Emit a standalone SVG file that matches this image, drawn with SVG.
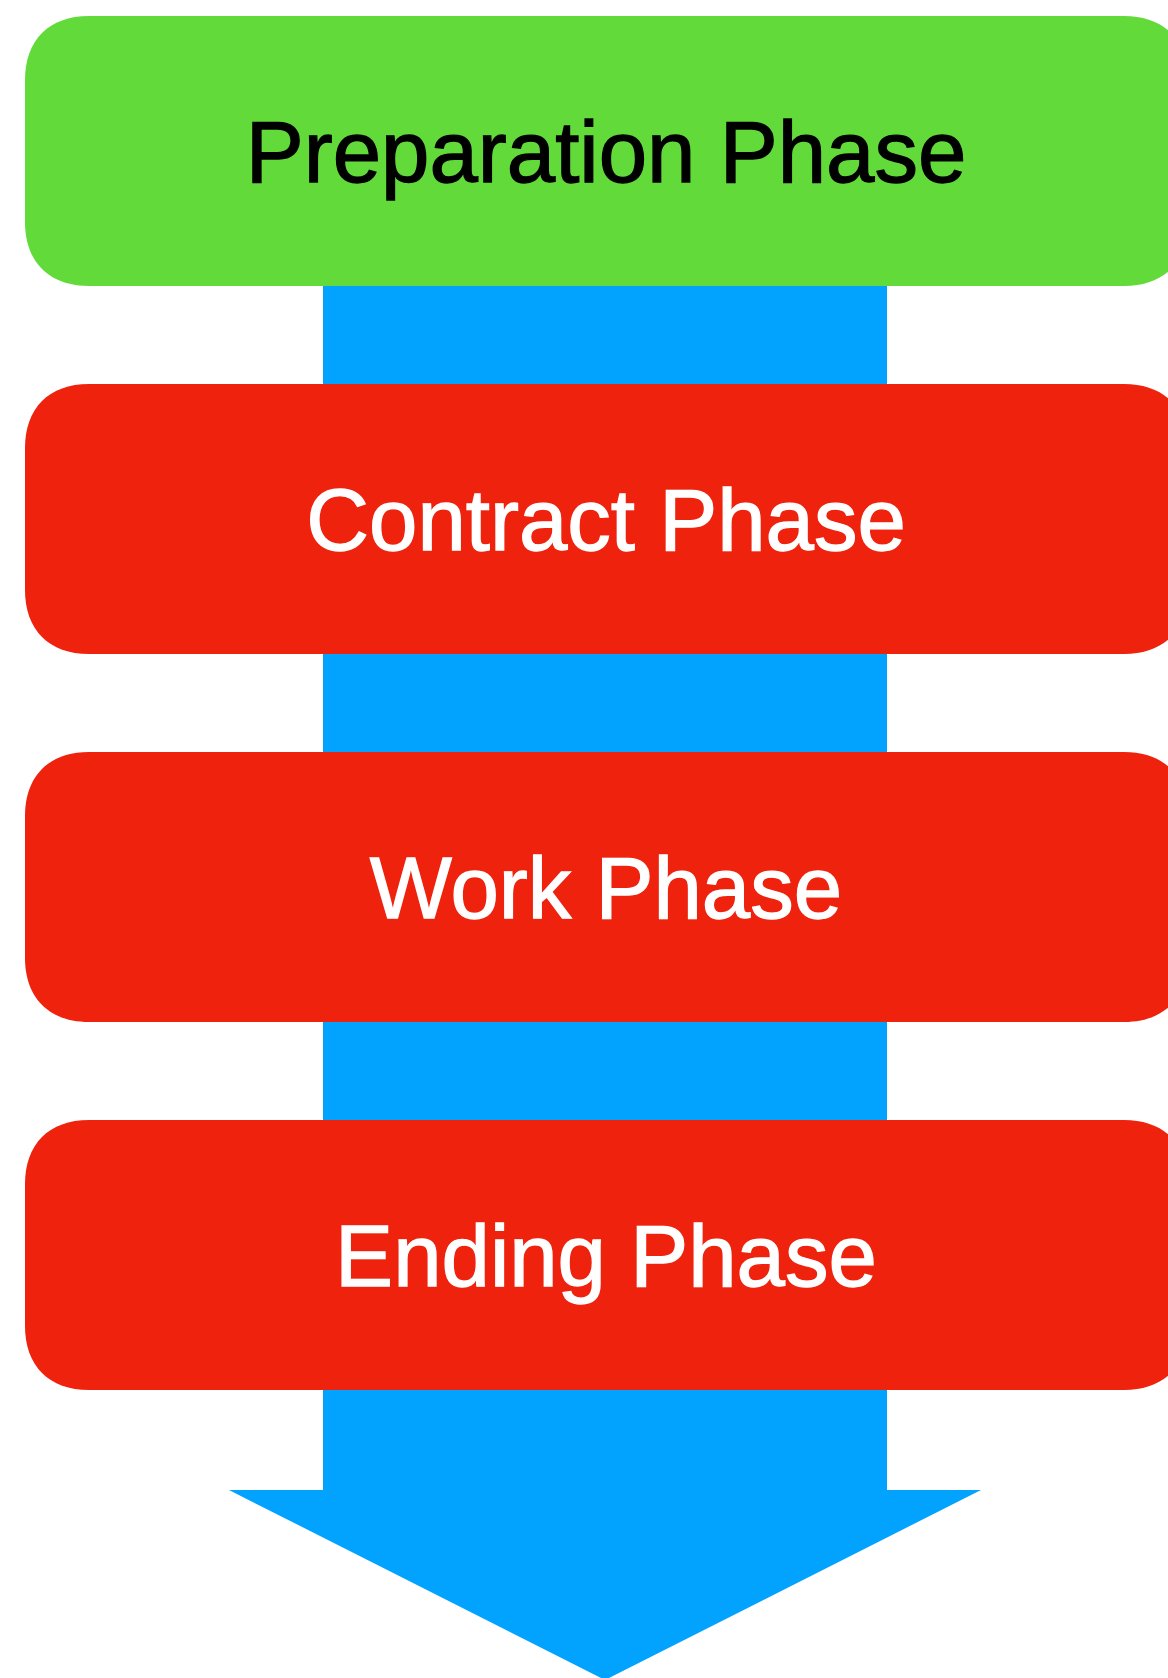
<svg xmlns="http://www.w3.org/2000/svg" width="1168" height="1678" viewBox="0 0 1168 1678">
  <style>
    .green { fill: #61DA3A; }
    .red { fill: #EE220D; }
    .label { font-family: "Liberation Sans", Arial, Helvetica, sans-serif; font-size: 87px; text-anchor: middle; stroke-width: 1.3px; }
    .dark { fill: #000000; stroke: #000000; }
    .light { fill: #FFFFFF; stroke: #FFFFFF; }
  </style>
  <defs>
    <path id="phase-shape" d="M64,0 H1099 C1139,0 1163,24 1163,64 V206 C1163,246 1139,270 1099,270 H64 C24,270 0,246 0,206 V64 C0,24 24,0 64,0 Z"/>
  </defs>
  <rect width="1168" height="1678" fill="#FFFFFF"/>
  <g id="connectors">
    <path id="flow-arrow" d="M323,270 L887,270 L887,1490 L981,1490 L605,1680 L229,1490 L323,1490 Z" fill="#02A2FF"/>
  </g>
  <g id="preparation-phase">
    <use href="#phase-shape" class="green" x="25" y="16"/>
    <text class="label dark" x="606" y="182">Preparation Phase</text>
  </g>
  <g id="contract-phase">
    <use href="#phase-shape" class="red" x="25" y="384"/>
    <text class="label light" x="606" y="550">Contract Phase</text>
  </g>
  <g id="work-phase">
    <use href="#phase-shape" class="red" x="25" y="752"/>
    <text class="label light" x="606" y="918">Work Phase</text>
  </g>
  <g id="ending-phase">
    <use href="#phase-shape" class="red" x="25" y="1120"/>
    <text class="label light" x="606" y="1286">Ending Phase</text>
  </g>
</svg>
